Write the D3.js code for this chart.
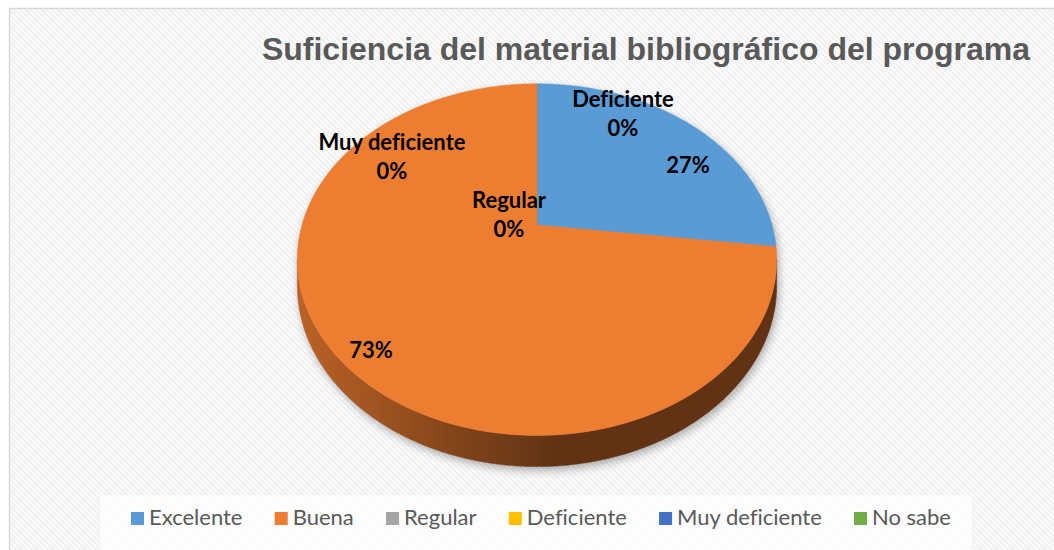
<!DOCTYPE html>
<html>
<head>
<meta charset="utf-8">
<script src="https://cdn.jsdelivr.net/npm/d3@7"></script>
<style>
  body { margin: 0; background: #fff; }
  svg { display: block; }
  text { font-variant-ligatures: none; }
</style>
</head>
<body>
<svg id="chart" width="1054" height="550"></svg>
<script>
// chart data
var categories = ["Excelente", "Buena", "Regular", "Deficiente", "Muy deficiente", "No sabe"]
var values = [27, 73, 0, 0, 0, 0]
var colors = ["#5b9bd5", "#ed7d31", "#a5a5a5", "#ffc000", "#4472c4", "#70ad47"]
var showName = [false, false, true, true, true, false]
var showLabel = [true, true, true, true, true, false]
var title = "Suficiencia del material bibliográfico del programa"

// where each data label sits, relative to the pie centre (pixels)
var labelOffset = [[151, -60], [-166, 125], [-28, -10], [86, -111], [-145, -68], [0, 0]]

var W = 1054, H = 550
var svg = d3.select("#chart")
var defs = svg.append("defs")

// background: light diagonal weave like the office chart style
var pat = defs.append("pattern").attr("id", "weave")
  .attr("patternUnits", "userSpaceOnUse").attr("width", 16).attr("height", 16)
pat.append("rect").attr("width", 16).attr("height", 16).attr("fill", "#fdfdfd")
pat.append("rect").attr("width", 8).attr("height", 8).attr("fill", "#f7f7f7")
pat.append("rect").attr("x", 8).attr("y", 8).attr("width", 8).attr("height", 8).attr("fill", "#f7f7f7")
;[-16, -10.67, -5.33, 0, 5.33, 10.67, 16].forEach(function(o){
  pat.append("line").attr("x1", o).attr("y1", 0).attr("x2", o + 16).attr("y2", 16)
    .attr("stroke", "#efefef").attr("stroke-width", 1.5)
})

svg.append("rect").attr("x", 9.5).attr("y", 8.5).attr("width", W).attr("height", H)
  .attr("fill", "url(#weave)").attr("stroke", "#d9d9d9").attr("stroke-width", 1.5)

// title
svg.append("text")
  .attr("x", 646).attr("y", 60)
  .attr("text-anchor", "middle")
  .style("font-family", "'Liberation Sans', Arial, sans-serif")
  .style("font-weight", "bold")
  .style("font-size", "32px")
  .attr("fill", "#595959")
  .text(title)

// 3D pie projection: a disk tilted away from the viewer, with perspective
var cx = 537, cy = 225
var A = 235, B = 169, P = 0.197, T = 25

function proj(a, r, drop) {
  var u = r * Math.sin(a), v = r * Math.cos(a)
  var k = 1 / (1 + P * v)
  return [cx + A * u * k, cy - B * v * k + (drop || 0) * k]
}

function arcPts(a0, a1, drop) {
  var n = Math.max(2, Math.ceil(Math.abs(a1 - a0) / (Math.PI / 180)))
  return d3.range(n + 1).map(function(i){ return proj(a0 + (a1 - a0) * i / n, 1, drop) })
}

var pie = d3.pie().sort(null).value(function(d){ return d })
var arcs = pie(values)

var line = d3.line()

// soft shadow under the pie
var blur = defs.append("filter").attr("id", "blur").attr("x", "-20%").attr("y", "-20%")
  .attr("width", "140%").attr("height", "140%")
blur.append("feGaussianBlur").attr("stdDeviation", 4)

var aX = Math.acos(-P)
var outline = arcPts(-aX, aX, 0).concat(arcPts(aX, 2 * Math.PI - aX, T).slice(1))
svg.append("path")
  .attr("d", line(outline) + "Z")
  .attr("transform", "translate(2,4)")
  .attr("fill", "#000").attr("opacity", 0.3)
  .attr("filter", "url(#blur)")

// side walls (only the front half is visible)
var sides = svg.append("g")
arcs.forEach(function(d, i){
  var s = Math.max(d.startAngle, aX), e = Math.min(d.endAngle, 2 * Math.PI - aX)
  if (e <= s) return
  var base = d3.color(colors[i])
  var g = defs.append("linearGradient").attr("id", "side" + i)
    .attr("gradientUnits", "userSpaceOnUse")
    .attr("x1", cx - A).attr("y1", 0).attr("x2", cx + 15).attr("y2", 0)
  g.append("stop").attr("offset", "0%").attr("stop-color", base.darker(0.7).formatHex())
  g.append("stop").attr("offset", "100%").attr("stop-color", base.darker(2.5).formatHex())
  var top = arcPts(s, e, 0)
  var bot = arcPts(e, s, T)
  sides.append("path")
    .attr("d", line(top.concat(bot)) + "Z")
    .attr("fill", "url(#side" + i + ")")
    .attr("stroke", "url(#side" + i + ")").attr("stroke-width", 0.5)
})

// top face slices
svg.append("g").selectAll("path")
  .data(arcs.filter(function(d){ return d.endAngle > d.startAngle }))
  .enter().append("path")
  .attr("d", function(d){
    return line([[cx, cy]].concat(arcPts(d.startAngle, d.endAngle, 0))) + "Z"
  })
  .attr("fill", function(d){ return colors[d.index] })
  .attr("stroke", function(d){ return colors[d.index] })
  .attr("stroke-width", 0.5)

// data labels
var fmt = d3.format(".0%")
var total = d3.sum(values)
var lab = svg.append("g")
  .style("font-family", "Lato, 'Open Sans', sans-serif")
  .style("font-weight", "bold")
  .style("font-size", "22px")
  .attr("fill", "#000")
  .attr("text-anchor", "middle")
categories.forEach(function(c, i){
  if (!showLabel[i]) return
  var lines = showName[i] ? [c, fmt(values[i] / total)] : [fmt(values[i] / total)]
  var t = lab.append("text")
    .attr("x", cx + labelOffset[i][0])
    .attr("y", cy + labelOffset[i][1] - (lines.length - 1) * 15)
  lines.forEach(function(l, j){
    t.append("tspan").attr("x", cx + labelOffset[i][0])
      .attr("dy", j === 0 ? "0.35em" : 29)
      .text(l)
  })
})

// legend
svg.append("rect").attr("x", 100).attr("y", 495).attr("width", 872).attr("height", 60)
  .attr("fill", "#fff").attr("opacity", 0.75)

var leg = svg.append("g")
  .style("font-family", "Lato, 'Open Sans', sans-serif")
  .style("font-size", "22px")
var items = leg.selectAll("g").data(categories).enter().append("g")
items.append("rect").attr("width", 13).attr("height", 13).attr("y", 512)
  .attr("fill", function(d, i){ return colors[i] })
items.append("text").attr("x", 18).attr("y", 525).attr("fill", "#595959")
  .text(function(d){ return d })

var widths = []
items.each(function(){ widths.push(this.getBBox().width) })
var legStart = 131, legEnd = 951
var gap = (legEnd - legStart - d3.sum(widths)) / (categories.length - 1)
var x = legStart
items.each(function(d, i){
  d3.select(this).attr("transform", "translate(" + x + ",0)")
  x += widths[i] + gap
})
</script>
</body>
</html>
